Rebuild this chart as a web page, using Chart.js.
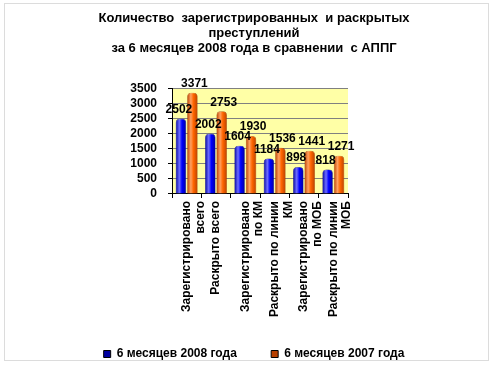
<!DOCTYPE html>
<html>
<head>
<meta charset="utf-8">
<script src="https://cdn.jsdelivr.net/npm/chart.js@4"></script>
<style>
  body { margin: 0; background: #fff; }
  #wrap { position: relative; width: 495px; height: 366px; }
  #frame { position: absolute; left: 4px; top: 3px; width: 483px; height: 356px; border: 1px solid #dcdcdc; }
  canvas { position: absolute; left: 0; top: 0; }
</style>
</head>
<body>
<div id="wrap">
  <div id="frame"></div>
  <canvas id="chart" width="495" height="366"></canvas>
</div>
<script>
const titleLines = [
  'Количество  зарегистрированных  и раскрытых',
  'преступлений',
  'за 6 месяцев 2008 года в сравнении  с АППГ'
];
const categories = [
  ['Зарегистрировано', 'всего'],
  'Раскрыто всего',
  ['Зарегистрировано', 'по КМ'],
  ['Раскрыто по линии', 'КМ'],
  ['Зарегистрировано', 'по МОБ'],
  ['Раскрыто по линии', 'МОБ']
];
const seriesNames = ['6 месяцев 2008 года', '6 месяцев 2007 года'];
const values2008 = [2502, 2002, 1604, 1184, 898, 818];
const values2007 = [3371, 2753, 1930, 1536, 1441, 1271];
const yMax = 3500;
const yStep = 500;

const FONT = 'Liberation Sans, Arial, sans-serif';
const CAT_PCT = 0.78;
const BAR_PCT = 0.92;

// cylinder-ish shading, worked out from the x scale
function cylinder(dark, mid, light) {
  return (c) => {
    const chart = c.chart;
    const xs = chart.scales.x;
    if (!chart.chartArea || !xs || c.dataIndex === undefined) return mid;
    const catW = xs.width / categories.length;
    const slot = catW * CAT_PCT / 2;
    const w = slot * BAR_PCT;
    const cx = xs.getPixelForValue(c.dataIndex) - catW * CAT_PCT / 2 + slot * (c.datasetIndex + 0.5);
    const g = chart.ctx.createLinearGradient(cx - w / 2, 0, cx + w / 2, 0);
    g.addColorStop(0, dark);
    g.addColorStop(0.35, light);
    g.addColorStop(0.6, mid);
    g.addColorStop(1, dark);
    return g;
  };
}

const wallPlugin = {
  id: 'wall',
  beforeDraw(chart) {
    const a = chart.chartArea;
    const ctx = chart.ctx;
    ctx.save();
    ctx.fillStyle = '#ffffa6';
    ctx.fillRect(a.left, a.top, a.right - a.left, a.bottom - a.top);
    ctx.restore();
  }
};

const valuePlugin = {
  id: 'values',
  afterDatasetsDraw(chart) {
    const ctx = chart.ctx;
    ctx.save();
    ctx.font = 'bold 12px ' + FONT;
    ctx.fillStyle = '#000';
    ctx.textAlign = 'center';
    ctx.textBaseline = 'bottom';
    chart.data.datasets.forEach((ds, i) => {
      chart.getDatasetMeta(i).data.forEach((el, j) => {
        ctx.fillText(String(ds.data[j]), el.x + (i === 0 ? -2 : 2), el.y - 3);
      });
    });
    ctx.restore();
  }
};

new Chart(document.getElementById('chart'), {
  type: 'bar',
  data: {
    labels: categories,
    datasets: [
      {
        label: seriesNames[0],
        data: values2008,
        backgroundColor: cylinder('#0000a0', '#0000ff', '#6f6fff'),
        borderColor: '#000080',
        borderWidth: 0.5,
        borderRadius: { topLeft: 4, topRight: 4 },
        borderSkipped: 'bottom',
        categoryPercentage: CAT_PCT,
        barPercentage: BAR_PCT
      },
      {
        label: seriesNames[1],
        data: values2007,
        backgroundColor: cylinder('#b84000', '#ff6600', '#ffa060'),
        borderColor: '#8a3000',
        borderWidth: 0.5,
        borderRadius: { topLeft: 4, topRight: 4 },
        borderSkipped: 'bottom',
        categoryPercentage: CAT_PCT,
        barPercentage: BAR_PCT
      }
    ]
  },
  options: {
    responsive: false,
    animation: false,
    layout: { padding: { left: 23, right: 10, top: 3, bottom: -4 } },
    plugins: {
      title: {
        display: true,
        text: titleLines,
        color: '#000',
        font: { family: FONT, size: 13, weight: 'bold', lineHeight: 1.15 },
        padding: { top: 8, bottom: 33 }
      },
      legend: {
        position: 'bottom',
        labels: {
          color: '#000',
          font: { family: FONT, size: 12, weight: 'bold' },
          boxWidth: 7,
          boxHeight: 7,
          padding: 1,
          generateLabels(chart) {
            const items = Chart.defaults.plugins.legend.labels.generateLabels(chart);
            items.forEach((it, i) => {
              it.lineWidth = 1;
              it.strokeStyle = '#000';
              if (i === 0) it.text = it.text + '          ';
            });
            return items;
          }
        }
      },
      tooltip: { enabled: false }
    },
    scales: {
      x: {
        grid: { display: true, drawOnChartArea: false, offset: true, tickLength: 4, color: '#000' },
        border: { display: true, color: '#000' },
        ticks: {
          autoSkip: false,
          maxRotation: 90,
          minRotation: 90,
          padding: 3,
          color: '#000',
          font: { family: FONT, size: 12, weight: 'bold', lineHeight: 1.15 }
        },
        afterFit(s) { s.height = 153; }
      },
      y: {
        min: 0,
        max: yMax,
        ticks: {
          stepSize: yStep,
          autoSkip: false,
          padding: 11,
          color: '#000',
          font: { family: FONT, size: 12, weight: 'bold' },
          callback: (v) => String(v)
        },
        grid: { color: '#808080', tickLength: 4, tickColor: '#000' },
        border: { display: true, color: '#000' },
        afterFit(s) { s.width = 149; }
      },
      y2: {
        position: 'right',
        display: true,
        grid: { display: false },
        border: { display: false },
        ticks: { display: false },
        afterFit(s) { s.width = 137; }
      }
    }
  },
  plugins: [wallPlugin, valuePlugin]
});
</script>
</body>
</html>
